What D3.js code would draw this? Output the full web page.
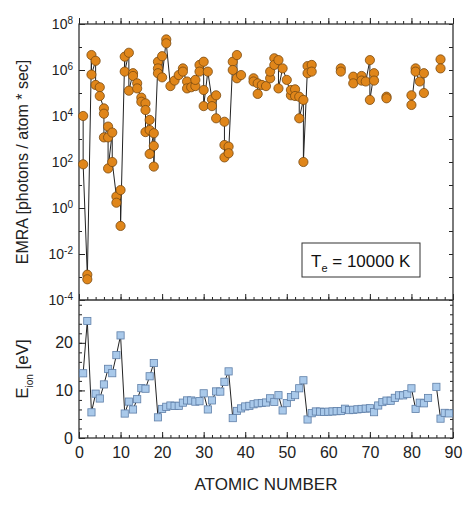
<!DOCTYPE html><html><head><meta charset="utf-8"><script src="https://cdn.jsdelivr.net/npm/d3@7"></script>
<style>body{margin:0;background:#fff}text{font-family:Arial,"Liberation Sans",sans-serif}</style></head><body><svg id="c" width="474" height="506"></svg><script>
const emraZ=[1,1,2,2,3,3,4,4,5,5,6,6,6,7,7,7,8,8,9,9,10,10,11,11,12,12,13,13,14,14,15,15,16,16,16,17,17,17,18,18,18,19,19,19,20,20,21,21,22,23,24,25,25,26,26,27,28,28,29,29,30,30,30,31,32,32,33,33,35,35,35,36,36,37,37,38,38,39,42,42,43,43,44,45,46,46,47,47,48,48,49,50,51,51,52,52,53,53,54,54,55,55,56,56,63,63,66,66,68,68,69,70,70,71,71,74,74,80,80,81,81,82,83,83,87,87];
const emraLog=[4.0,1.9,-2.9,-3.1,6.65,5.8,6.4,5.35,5.25,4.87,4.33,4.1,3.07,3.54,3.07,1.72,3.28,2.0,0.5,0.23,0.78,-0.78,6.58,5.93,6.75,5.1,5.86,5.74,5.42,5.2,4.8,4.62,4.55,4.26,3.3,3.83,3.39,2.35,3.25,2.7,1.8,6.36,6.07,5.86,6.6,5.68,7.33,7.16,5.3,5.54,5.78,6.07,5.93,5.5,5.2,5.25,5.3,5.57,6.22,5.93,6.36,5.13,4.43,5.93,4.72,4.43,4.9,3.9,3.75,2.74,2.2,2.67,2.38,6.36,6.0,6.65,5.64,5.78,5.64,5.5,5.42,4.96,5.35,5.3,5.64,5.93,6.51,6.22,6.43,5.2,6.07,5.57,4.9,5.13,5.16,4.87,4.84,3.9,4.7,2.0,6.17,5.86,6.22,5.93,6.07,5.93,5.71,5.42,5.74,5.54,5.5,6.43,4.7,5.86,5.54,4.84,4.77,4.9,4.48,6.07,5.93,5.5,5.86,5.0,6.46,6.07];
const ionZ=d3.range(1,90).filter(z=>z!==85);
const ionE=[13.6,24.59,5.39,9.32,8.30,11.26,14.53,13.62,17.42,21.56,5.14,7.65,5.99,8.15,10.49,10.36,12.97,15.76,4.34,6.11,6.56,6.83,6.75,6.77,7.43,7.90,7.88,7.64,7.73,9.39,6.00,7.90,9.79,9.75,11.81,14.00,4.18,5.69,6.22,6.63,6.76,7.09,7.28,7.36,7.46,8.34,7.58,8.99,5.79,7.34,8.61,9.01,10.45,12.13,3.89,5.21,5.58,5.54,5.47,5.53,5.58,5.64,5.67,6.15,5.86,5.94,6.02,6.11,6.18,6.25,5.43,6.83,7.55,7.86,7.83,8.44,8.97,8.96,9.23,10.44,6.11,7.42,7.29,8.41,10.75,4.07,5.28,5.17];
const xTicks=[0,10,20,30,40,50,60,70,80,90];
const L=79,R=453,T1=24,B1=300,B2=438;
const svg=d3.select("#c");
const x=d3.scaleLinear().domain([0,90]).range([L,R]);
const y1=d3.scaleLog().domain([1e-4,1e8]).range([B1,T1]);
const y2=d3.scaleLinear().domain([0,29]).range([B2,B1]);
function xt(yPos,dir,labels){
 const g=svg.append("g").attr("transform",`translate(0,${yPos})`);
 g.call((dir>0?d3.axisBottom:d3.axisTop)(x).tickValues(d3.range(0,91,2)).tickSize(-dir*3).tickFormat("")).call(s=>s.select(".domain").remove());
 const g2=svg.append("g").attr("transform",`translate(0,${yPos})`);
 g2.call((dir>0?d3.axisBottom:d3.axisTop)(x).tickValues(xTicks).tickSize(-dir*6).tickPadding(9).tickFormat(labels?d3.format("d"):"")).call(s=>s.select(".domain").remove());
 g2.selectAll("text").attr("font-size",16).attr("fill","#222");
}
xt(B2,1,true);xt(T1,-1,false);xt(B1,1,false);
const gy=svg.append("g").attr("transform",`translate(${L},0)`);
gy.call(d3.axisLeft(y1).tickValues(d3.range(-4,9,2).map(e=>Math.pow(10,e))).tickSize(-6).tickPadding(5).tickFormat("")).call(s=>s.select(".domain").remove());
gy.call(g=>g.selectAll(".tick").append("text").attr("x",-6).attr("dy","0.35em").attr("text-anchor","end").attr("font-size",14).attr("fill","#222")
 .each(function(d){const t=d3.select(this);t.append("tspan").text("10");t.append("tspan").attr("dy","-0.55em").attr("font-size",10).text(Math.round(Math.log10(d)));}));
svg.append("g").attr("transform",`translate(${L},0)`).call(d3.axisLeft(y1).tickValues(d3.range(-3,8,2).map(e=>Math.pow(10,e))).tickSize(-3).tickFormat("")).call(s=>s.select(".domain").remove());
svg.append("g").attr("transform",`translate(${R},0)`).call(d3.axisRight(y1).tickValues(d3.range(-4,9,1).map(e=>Math.pow(10,e))).tickSize(-4).tickFormat("")).call(s=>s.select(".domain").remove());
const gy2=svg.append("g").attr("transform",`translate(${L},0)`);
gy2.call(d3.axisLeft(y2).tickValues([0,10,20]).tickSize(-6).tickPadding(6).tickFormat(d3.format("d"))).call(s=>s.select(".domain").remove());
gy2.selectAll("text").attr("font-size",16).attr("fill","#222");
svg.append("g").attr("transform",`translate(${L},0)`).call(d3.axisLeft(y2).tickValues(d3.range(0,29,2)).tickSize(-3).tickFormat("")).call(s=>s.select(".domain").remove());
svg.append("g").attr("transform",`translate(${R},0)`).call(d3.axisRight(y2).tickValues(d3.range(0,29,2)).tickSize(-3).tickFormat("")).call(s=>s.select(".domain").remove());
svg.selectAll(".tick line").attr("stroke","#222");
svg.append("rect").attr("x",L).attr("y",T1).attr("width",R-L).attr("height",B2-T1).attr("fill","none").attr("stroke","#333").attr("stroke-width",1.3);
svg.append("line").attr("x1",L).attr("x2",R).attr("y1",B1).attr("y2",B1).attr("stroke","#333").attr("stroke-width",1.3);
const pts=emraZ.map((z,i)=>({z,v:Math.pow(10,emraLog[i])}));
const line1=d3.line().x(d=>x(d.z)).y(d=>y1(d.v));
let segs=[],cur=[];
pts.forEach((p,i)=>{if(i>0&&p.z-pts[i-1].z>1){segs.push(cur);cur=[];}cur.push(p);});segs.push(cur);
svg.append("g").selectAll("path").data(segs).join("path").attr("d",line1).attr("fill","none").attr("stroke","#222").attr("stroke-width",1);
svg.append("g").selectAll("circle").data(pts).join("circle").attr("cx",d=>x(d.z)).attr("cy",d=>y1(d.v)).attr("r",4.6)
 .attr("fill","#e0861a").attr("stroke","#7a4a10").attr("stroke-width",0.8);
const ip=ionZ.map((z,i)=>({z,e:ionE[i]}));
let s2=[],c2=[];ip.forEach((p,i)=>{if(i>0&&p.z-ip[i-1].z>1){s2.push(c2);c2=[];}c2.push(p);});s2.push(c2);
svg.append("g").selectAll("path").data(s2).join("path").attr("d",d3.line().x(d=>x(d.z)).y(d=>y2(d.e))).attr("fill","none").attr("stroke","#222").attr("stroke-width",1);
svg.append("g").selectAll("rect").data(ip).join("rect").attr("x",d=>x(d.z)-3.6).attr("y",d=>y2(d.e)-3.6).attr("width",7.2).attr("height",7.2)
 .attr("fill","#a9c9ea").attr("stroke","#5f7fa8").attr("stroke-width",0.8);
svg.append("rect").attr("x",302).attr("y",243).attr("width",118).attr("height",34).attr("fill","#fff").attr("stroke","#333");
const lt=svg.append("text").attr("x",311).attr("y",267).attr("font-size",17).attr("fill","#111");
lt.append("tspan").text("T");lt.append("tspan").attr("dy",5).attr("font-size",11).text("e");lt.append("tspan").attr("dy",-5).text(" = 10000 K");
svg.append("text").attr("transform",`translate(28,${(T1+B1)/2}) rotate(-90)`).attr("text-anchor","middle").attr("font-size",16).attr("fill","#222").text("EMRA [photons / atom * sec]");
const et=svg.append("text").attr("transform",`translate(28,${(B1+B2)/2}) rotate(-90)`).attr("text-anchor","middle").attr("font-size",17).attr("fill","#222");
et.append("tspan").text("E");et.append("tspan").attr("dy",5).attr("font-size",10).text("ion");et.append("tspan").attr("dy",-5).text("  [eV]");
svg.append("text").attr("x",(L+R)/2).attr("y",490).attr("text-anchor","middle").attr("font-size",17).attr("fill","#222").text("ATOMIC NUMBER");
</script></body></html>
